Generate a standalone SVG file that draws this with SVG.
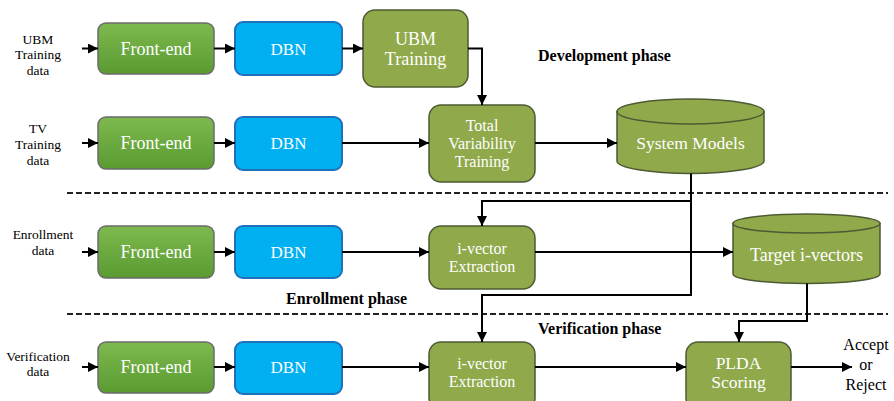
<svg xmlns="http://www.w3.org/2000/svg" width="894" height="401" viewBox="0 0 894 401">
<defs>
<linearGradient id="gfe" x1="0" y1="0" x2="0" y2="1">
<stop offset="0" stop-color="#7db94f"/>
<stop offset="1" stop-color="#5a9b31"/>
</linearGradient>
<marker id="ah" viewBox="0 0 10 10" refX="10" refY="5" markerWidth="10" markerHeight="10" markerUnits="userSpaceOnUse" orient="auto">
<path d="M0,0 L10,5 L0,10 Z" fill="#000"/>
</marker>
<style>
.fe{fill:url(#gfe);stroke:#6b6b6b;stroke-width:1.5}
.dbn{fill:#00b0f0;stroke:#1f70b8;stroke-width:2}
.ol{fill:#8fa94b;stroke:#4e5a33;stroke-width:1.5}
.nt{font-family:"Liberation Serif","DejaVu Serif",serif;fill:#fff;text-anchor:middle}
.lb{font-family:"Liberation Serif","DejaVu Serif",serif;fill:#000;text-anchor:middle;font-size:13.5px}
.ph{font-family:"Liberation Serif","DejaVu Serif",serif;fill:#000;font-weight:bold;font-size:16px}
.cn{fill:none;stroke:#000;stroke-width:2}
.dl{fill:none;stroke:#222;stroke-width:2;stroke-dasharray:6,3}
</style>
</defs>

<g id="labels">
<text class="lb" x="38" y="44">UBM</text>
<text class="lb" x="38" y="59">Training</text>
<text class="lb" x="38" y="75">data</text>
<text class="lb" x="38" y="133">TV</text>
<text class="lb" x="38" y="149">Training</text>
<text class="lb" x="38" y="165">data</text>
<text class="lb" x="43" y="239">Enrollment</text>
<text class="lb" x="43" y="255">data</text>
<text class="lb" x="38" y="361">Verification</text>
<text class="lb" x="38" y="376">data</text>
<text class="lb" x="866" y="350" style="font-size:16px">Accept</text>
<text class="lb" x="866" y="370" style="font-size:16px">or</text>
<text class="lb" x="866" y="390" style="font-size:16px">Reject</text>
<text class="ph" x="538" y="61">Development phase</text>
<text class="ph" x="286" y="304">Enrollment phase</text>
<text class="ph" x="538" y="334">Verification phase</text>
</g>

<g id="dividers">
<line class="dl" x1="67" y1="193" x2="888" y2="193"/>
<line class="dl" x1="67" y1="314" x2="888" y2="314"/>
</g>

<g id="fe1"><rect class="fe" x="98" y="23" width="116" height="51" rx="8"/><text class="nt" x="156" y="55" font-size="18">Front-end</text></g>
<g id="dbn1"><rect class="dbn" x="235" y="22" width="107" height="53" rx="8"/><text class="nt" x="288.5" y="55" font-size="17">DBN</text></g>
<g id="ubm"><rect class="ol" x="363" y="10" width="105" height="77" rx="12"/><text class="nt" x="415.5" y="45" font-size="18">UBM</text><text class="nt" x="415.5" y="65" font-size="18">Training</text></g>

<g id="fe2"><rect class="fe" x="98" y="117" width="116" height="52" rx="8"/><text class="nt" x="156" y="149" font-size="18">Front-end</text></g>
<g id="dbn2"><rect class="dbn" x="235" y="117" width="107" height="53" rx="8"/><text class="nt" x="288.5" y="149" font-size="17">DBN</text></g>
<g id="tv"><rect class="ol" x="429" y="105" width="106" height="77" rx="12"/><text class="nt" x="482" y="131" font-size="16">Total</text><text class="nt" x="482" y="149" font-size="16">Variability</text><text class="nt" x="482" y="167" font-size="16">Training</text></g>
<g id="sysmodels">
<path class="ol" d="M617,111.5 L617,161 A73.5,12.5 0 0 0 764,161 L764,111.5 Z"/>
<ellipse class="ol" cx="690.5" cy="111.5" rx="73.5" ry="12.5"/>
<text class="nt" x="690.5" y="149" font-size="17.5">System Models</text>
</g>

<g id="fe3"><rect class="fe" x="98" y="226" width="116" height="52" rx="8"/><text class="nt" x="156" y="258" font-size="18">Front-end</text></g>
<g id="dbn3"><rect class="dbn" x="235" y="226" width="107" height="52" rx="8"/><text class="nt" x="288.5" y="258" font-size="17">DBN</text></g>
<g id="iv1"><rect class="ol" x="429" y="226" width="106" height="63" rx="12"/><text class="nt" x="482" y="254" font-size="16">i-vector</text><text class="nt" x="482" y="272" font-size="16">Extraction</text></g>
<g id="target">
<path class="ol" d="M733,223.5 L733,274 A73.5,9.5 0 0 0 880,274 L880,223.5 Z"/>
<ellipse class="ol" cx="806.5" cy="223.5" rx="73.5" ry="9.5"/>
<text class="nt" x="806.5" y="261" font-size="18">Target i-vectors</text>
</g>

<g id="fe4"><rect class="fe" x="98" y="342" width="116" height="51" rx="8"/><text class="nt" x="156" y="373" font-size="18">Front-end</text></g>
<g id="dbn4"><rect class="dbn" x="235" y="342" width="107" height="52" rx="8"/><text class="nt" x="288.5" y="373" font-size="17">DBN</text></g>
<g id="iv2"><rect class="ol" x="429" y="342" width="106" height="68" rx="12"/><text class="nt" x="482" y="369" font-size="16">i-vector</text><text class="nt" x="482" y="387" font-size="16">Extraction</text></g>
<g id="plda"><rect class="ol" x="686" y="342" width="105" height="68" rx="12"/><text class="nt" x="738.5" y="369" font-size="17.5">PLDA</text><text class="nt" x="738.5" y="388" font-size="17.5">Scoring</text></g>

<g id="connectors">
<line class="cn" x1="82" y1="48.5" x2="98" y2="48.5" marker-end="url(#ah)"/>
<line class="cn" x1="214" y1="48.5" x2="235" y2="48.5" marker-end="url(#ah)"/>
<line class="cn" x1="342" y1="48.5" x2="363" y2="48.5" marker-end="url(#ah)"/>
<polyline class="cn" points="468,48.5 482,48.5 482,105" marker-end="url(#ah)"/>

<line class="cn" x1="82" y1="143" x2="98" y2="143" marker-end="url(#ah)"/>
<line class="cn" x1="214" y1="143" x2="235" y2="143" marker-end="url(#ah)"/>
<line class="cn" x1="342" y1="143" x2="429" y2="143" marker-end="url(#ah)"/>
<line class="cn" x1="535" y1="143" x2="617" y2="143" marker-end="url(#ah)"/>

<polyline class="cn" points="691,173.5 691,201 482,201 482,226" marker-end="url(#ah)"/>
<polyline class="cn" points="691,201 691,295 482,295 482,342" marker-end="url(#ah)"/>

<line class="cn" x1="82" y1="252" x2="98" y2="252" marker-end="url(#ah)"/>
<line class="cn" x1="214" y1="252" x2="235" y2="252" marker-end="url(#ah)"/>
<line class="cn" x1="342" y1="252" x2="429" y2="252" marker-end="url(#ah)"/>
<line class="cn" x1="535" y1="252" x2="733" y2="252" marker-end="url(#ah)"/>

<polyline class="cn" points="807,283.5 807,321 739,321 739,342" marker-end="url(#ah)"/>

<line class="cn" x1="82" y1="367" x2="98" y2="367" marker-end="url(#ah)"/>
<line class="cn" x1="214" y1="367" x2="235" y2="367" marker-end="url(#ah)"/>
<line class="cn" x1="342" y1="367" x2="429" y2="367" marker-end="url(#ah)"/>
<line class="cn" x1="535" y1="367" x2="686" y2="367" marker-end="url(#ah)"/>
<line class="cn" x1="791" y1="367" x2="852" y2="367" marker-end="url(#ah)"/>
</g>
</svg>
